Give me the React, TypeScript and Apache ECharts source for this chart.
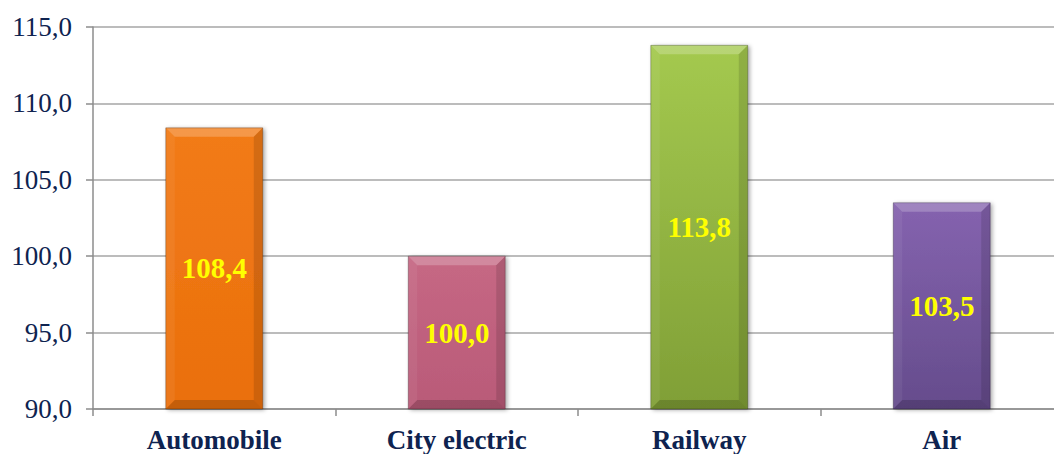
import React, { useEffect, useRef } from "react";
import * as echarts from "echarts";

const categories = ["Automobile", "City electric", "Railway", "Air"];
const values = [108.4, 100.0, 113.8, 103.5];
const topColors = ["#F27B18", "#C66884", "#A4C94F", "#8563AF"];
const bottomColors = ["#EA6F0C", "#B95A78", "#809F36", "#654C8C"];
const yTicks = [90, 95, 100, 105, 110, 115];

const SERIF = "Times New Roman";
const fmt = (v: number) => v.toFixed(1).replace(".", ",");

export default function App() {
  const ref = useRef<HTMLDivElement>(null);
  useEffect(() => {
    if (!ref.current) return;
    const chart = echarts.init(ref.current, undefined, { renderer: "svg" });
    chart.setOption({
      animation: false,
      grid: { left: 93, right: 0, top: 27, bottom: 45 },
      xAxis: {
        type: "category",
        data: categories,
        axisLine: { lineStyle: { color: "#8C8C8C", width: 1.5 } },
        axisTick: { show: true, length: 7, lineStyle: { color: "#8C8C8C", width: 1.5 } },
        axisLabel: {
          color: "#0E2350",
          fontFamily: SERIF,
          fontWeight: "bold",
          fontSize: 27,
          margin: 17,
        },
      },
      yAxis: {
        type: "value",
        min: yTicks[0],
        max: yTicks[yTicks.length - 1],
        interval: 5,
        axisLine: { show: true, lineStyle: { color: "#8C8C8C", width: 1.5 } },
        axisTick: { show: true, length: 7, lineStyle: { color: "#8C8C8C", width: 1.5 } },
        splitLine: { lineStyle: { color: "#A6A6A6", width: 1.5 } },
        axisLabel: {
          color: "#0E2350",
          fontFamily: SERIF,
          fontSize: 27,
          margin: 21,
          formatter: (v: number) => fmt(v),
        },
      },
      series: [
        {
          type: "custom",
          data: values.map((v, i) => [i, v]),
          renderItem: (params: any, api: any) => {
            const i = params.dataIndex;
            const v = api.value(1);
            const top = api.coord([api.value(0), v]);
            const base = api.coord([api.value(0), yTicks[0]]);
            const w = api.size([1, 0])[0] * 0.4;
            const x0 = top[0] - w / 2;
            const x1 = top[0] + w / 2;
            const y0 = top[1];
            const y1 = base[1];
            const b = 9;
            return {
              type: "group",
              children: [
                {
                  type: "rect",
                  shape: { x: x0, y: y0, width: w, height: y1 - y0 },
                  style: {
                    fill: new echarts.graphic.LinearGradient(0, 0, 0, 1, [
                      { offset: 0, color: topColors[i] },
                      { offset: 1, color: bottomColors[i] },
                    ]),
                    shadowColor: "rgba(0,0,0,0.35)",
                    shadowBlur: 4,
                    shadowOffsetX: 2,
                    shadowOffsetY: 1,
                  },
                },
                {
                  type: "polygon",
                  shape: { points: [[x0, y0], [x1, y0], [x1 - b, y0 + b], [x0 + b, y0 + b]] },
                  style: { fill: "rgba(255,255,255,0.22)" },
                },
                {
                  type: "polygon",
                  shape: { points: [[x0, y0], [x0 + b, y0 + b], [x0 + b, y1 - b], [x0, y1]] },
                  style: { fill: "rgba(255,255,255,0.06)" },
                },
                {
                  type: "polygon",
                  shape: { points: [[x1, y0], [x1, y1], [x1 - b, y1 - b], [x1 - b, y0 + b]] },
                  style: { fill: "rgba(0,0,0,0.12)" },
                },
                {
                  type: "polygon",
                  shape: { points: [[x0, y1], [x0 + b, y1 - b], [x1 - b, y1 - b], [x1, y1]] },
                  style: { fill: "rgba(0,0,0,0.16)" },
                },
                {
                  type: "rect",
                  shape: { x: x0, y: y0, width: w, height: y1 - y0 },
                  style: { fill: "none", stroke: "rgba(0,0,0,0.25)", lineWidth: 1 },
                },
                {
                  type: "text",
                  x: top[0],
                  y: (y0 + y1) / 2,
                  style: {
                    text: fmt(v),
                    fill: "#FFFF00",
                    fontFamily: SERIF,
                    fontWeight: "bold",
                    fontSize: 29,
                    align: "center",
                    verticalAlign: "middle",
                  },
                },
              ],
            };
          },
        },
      ],
    });
    return () => chart.dispose();
  }, []);
  return (
    <div style={{ position: "fixed", left: 0, top: 0, width: 1054, height: 454, overflow: "hidden", background: "#fff" }}>
      <div ref={ref} style={{ width: 1063, height: 454 }} />
    </div>
  );
}
